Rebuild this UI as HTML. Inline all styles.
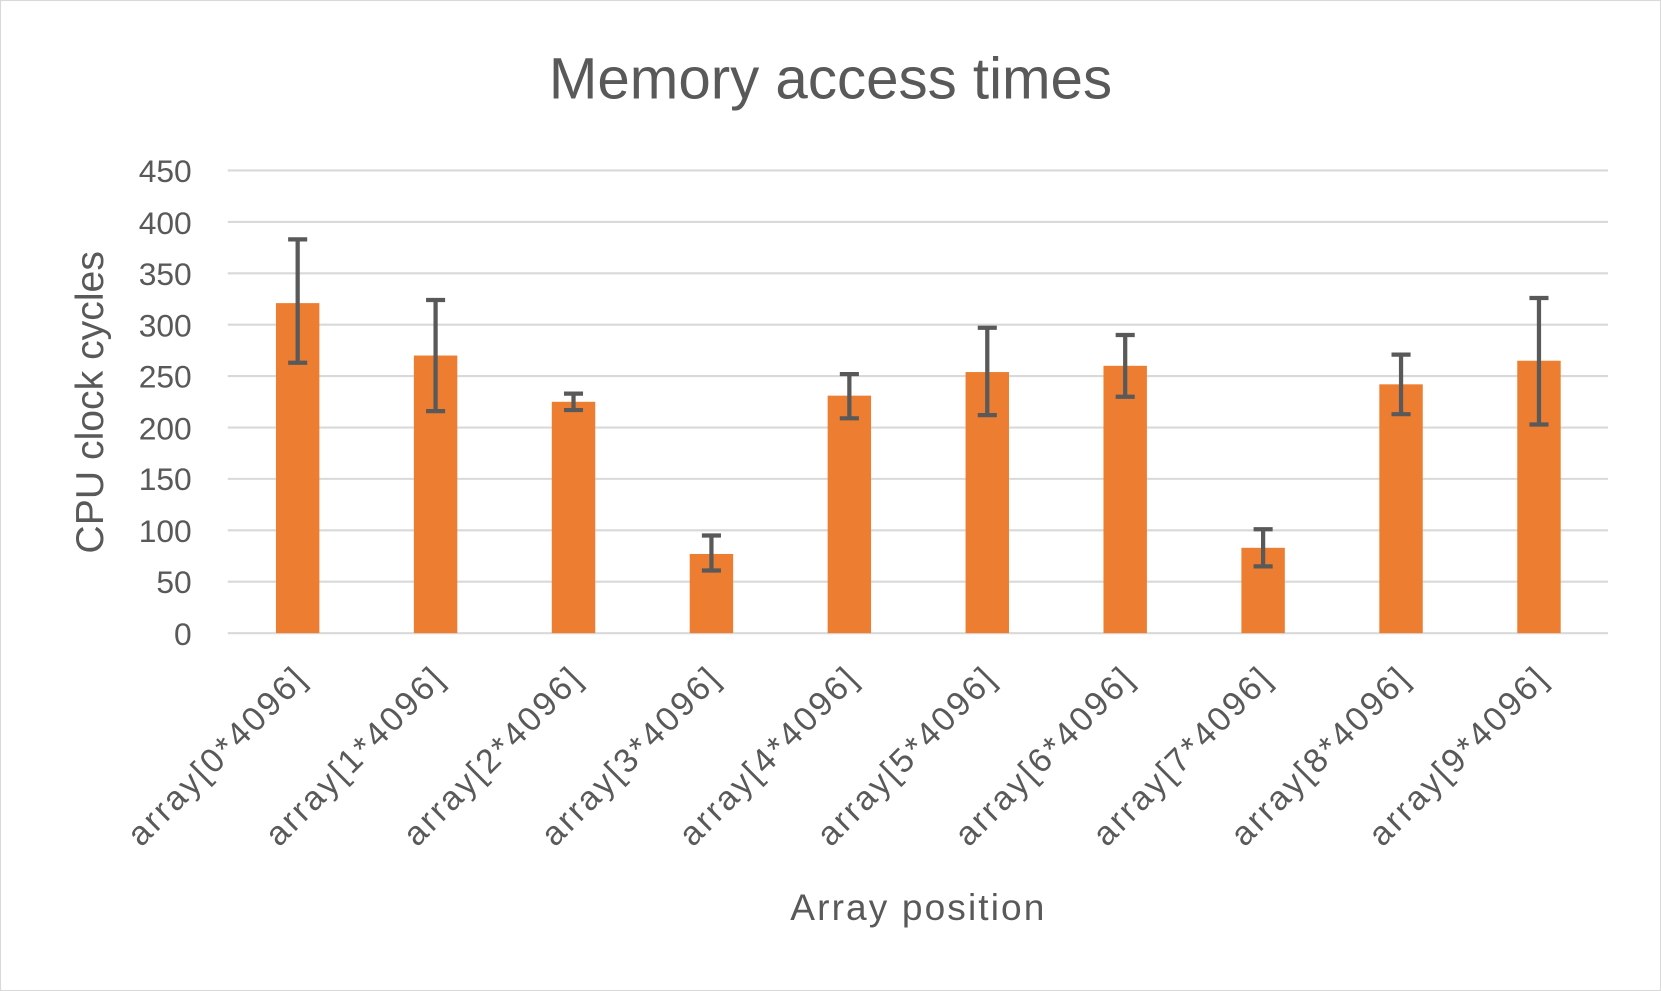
<!DOCTYPE html>
<html><head><meta charset="utf-8"><style>
html,body{margin:0;padding:0;background:#fff;}
svg{display:block;}
text{font-family:"Liberation Sans",sans-serif;fill:#595959;}
</style></head><body>
<svg width="1661" height="991" viewBox="0 0 1568 936" preserveAspectRatio="none" xmlns="http://www.w3.org/2000/svg">
<rect x="0.5" y="0.5" width="1567" height="935" fill="#fff" stroke="#d9d9d9"/>
<text x="784" y="93" font-size="55" text-anchor="middle">Memory access times</text>
<g stroke="#d9d9d9" stroke-width="2">
<line x1="215" x2="1518" y1="161" y2="161"/><line x1="215" x2="1518" y1="209.6" y2="209.6"/>
<line x1="215" x2="1518" y1="258.1" y2="258.1"/><line x1="215" x2="1518" y1="306.7" y2="306.7"/>
<line x1="215" x2="1518" y1="355.2" y2="355.2"/><line x1="215" x2="1518" y1="403.8" y2="403.8"/>
<line x1="215" x2="1518" y1="452.3" y2="452.3"/><line x1="215" x2="1518" y1="500.9" y2="500.9"/>
<line x1="215" x2="1518" y1="549.4" y2="549.4"/><line x1="215" x2="1518" y1="598" y2="598"/>
</g>
<g font-size="30" text-anchor="end">
<text x="181" y="172">450</text><text x="181" y="221">400</text><text x="181" y="269">350</text>
<text x="181" y="318">300</text><text x="181" y="366">250</text><text x="181" y="415">200</text>
<text x="181" y="463">150</text><text x="181" y="512">100</text><text x="181" y="560">50</text>
<text x="181" y="609">0</text>
</g>
<text transform="translate(97,380) rotate(-90)" font-size="37" text-anchor="middle">CPU clock cycles</text>
<g fill="#ED7D31">
<rect x="260.5" y="286.3" width="41" height="311.7"/>
<rect x="390.7" y="335.8" width="41" height="262.2"/>
<rect x="520.9" y="379.5" width="41" height="218.5"/>
<rect x="651.1" y="523.2" width="41" height="74.8"/>
<rect x="781.3" y="373.7" width="41" height="224.3"/>
<rect x="911.5" y="351.4" width="41" height="246.6"/>
<rect x="1041.7" y="345.5" width="41" height="252.5"/>
<rect x="1171.9" y="517.4" width="41" height="80.6"/>
<rect x="1302.1" y="363" width="41" height="235"/>
<rect x="1432.3" y="340.7" width="41" height="257.3"/>
</g>
<g stroke="#595959" stroke-width="4" fill="none">
<path d="M281 226.1V342.6M272 226.1H290M272 342.6H290"/>
<path d="M411.2 283.4V388.3M402.2 283.4H420.2M402.2 388.3H420.2"/>
<path d="M541.4 371.8V387.3M532.4 371.8H550.4M532.4 387.3H550.4"/>
<path d="M671.6 505.8V538.8M662.6 505.8H680.6M662.6 538.8H680.6"/>
<path d="M801.8 353.3V395.1M792.8 353.3H810.8M792.8 395.1H810.8"/>
<path d="M932 309.6V392.1M923 309.6H941M923 392.1H941"/>
<path d="M1062.2 316.4V374.7M1053.2 316.4H1071.2M1053.2 374.7H1071.2"/>
<path d="M1192.4 499.9V534.9M1183.4 499.9H1201.4M1183.4 534.9H1201.4"/>
<path d="M1322.6 334.9V391.2M1313.6 334.9H1331.6M1313.6 391.2H1331.6"/>
<path d="M1452.8 281.5V400.9M1443.8 281.5H1461.8M1443.8 400.9H1461.8"/>
</g>
<g font-size="32" letter-spacing="2.5" text-anchor="end">
<text transform="translate(292,642) rotate(-45)">array[0*4096]</text>
<text transform="translate(422.2,642) rotate(-45)">array[1*4096]</text>
<text transform="translate(552.4,642) rotate(-45)">array[2*4096]</text>
<text transform="translate(682.6,642) rotate(-45)">array[3*4096]</text>
<text transform="translate(812.8,642) rotate(-45)">array[4*4096]</text>
<text transform="translate(943,642) rotate(-45)">array[5*4096]</text>
<text transform="translate(1073.2,642) rotate(-45)">array[6*4096]</text>
<text transform="translate(1203.4,642) rotate(-45)">array[7*4096]</text>
<text transform="translate(1333.6,642) rotate(-45)">array[8*4096]</text>
<text transform="translate(1463.8,642) rotate(-45)">array[9*4096]</text>
</g>
<text x="867" y="869" font-size="35" letter-spacing="2" text-anchor="middle">Array position</text>
</svg>
</body></html>
